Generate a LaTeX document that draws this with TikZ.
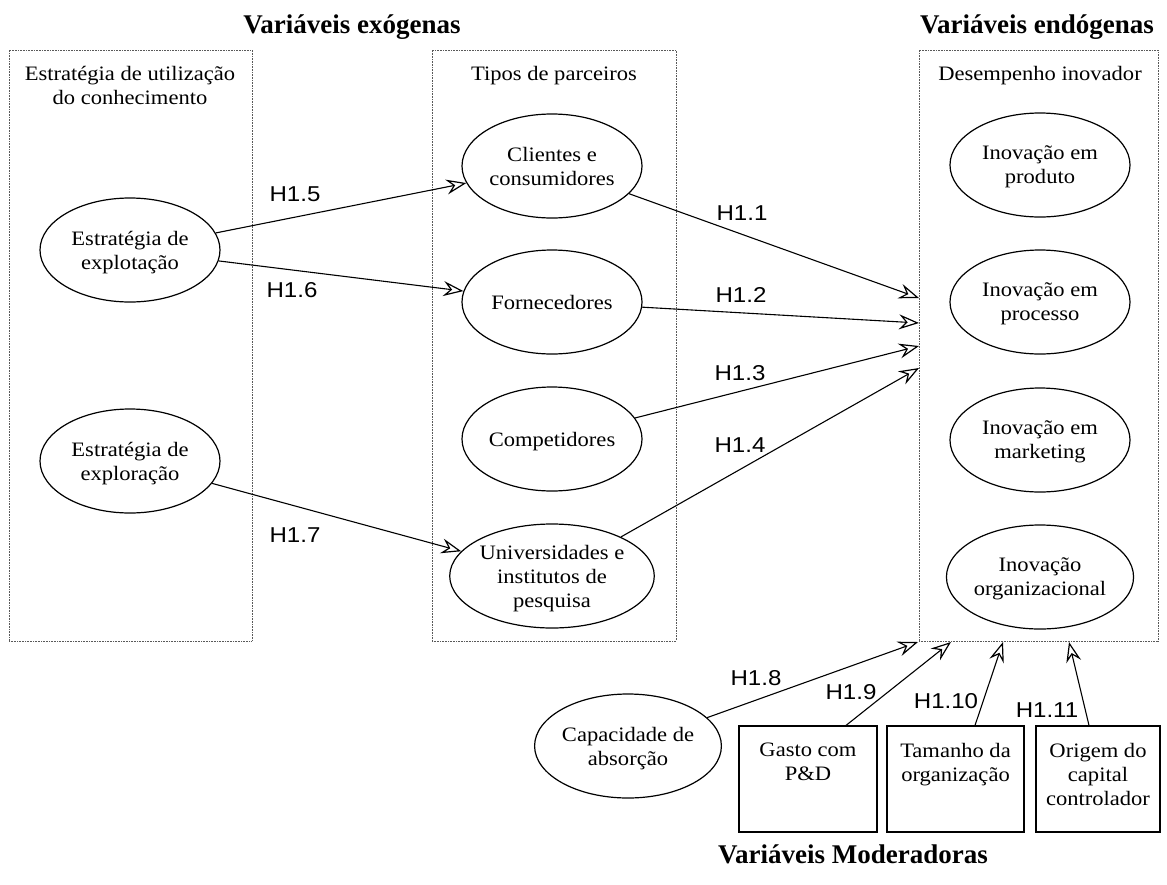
\documentclass[tikz,border=0pt]{standalone}
\usepackage{fontspec}
\setmainfont{Liberation Serif}[FakeStretch=1.1]
\newfontfamily\titlefont{Liberation Serif}
\newfontfamily\hfont{Liberation Sans}[FakeStretch=1.12]
\usetikzlibrary{arrows.meta,shapes.geometric}
\begin{document}
\begin{tikzpicture}[x=1pt,y=-1pt,
  txt/.style={font=\fontsize{20.5}{24}\selectfont, align=center, inner sep=0pt},
  ell/.style={ellipse, draw, line width=1.2pt, minimum width=180pt, minimum height=104pt,
              inner sep=0pt, txt, text depth=0pt},
  dotbox/.style={draw=black!65, dash pattern=on 0.8pt off 0.8pt, line width=0.8pt, inner sep=0pt},
  modbox/.style={draw, line width=1.2pt, inner sep=0pt},
  hlab/.style={font=\hfont\fontsize{21.5}{24}\selectfont, anchor=base, inner sep=0pt},
  ttl/.style={font=\titlefont\bfseries\fontsize{27}{30}\selectfont, anchor=base, inner sep=0pt},
  arr/.style={draw, line width=1.1pt, -{Stealth[open, length=20pt, width=15pt, inset=7pt, line width=1.2pt]}},
]
\useasboundingbox (0,0) rectangle (1167,884);

% titles
\node[ttl] (tex) at (352,33) {Variáveis exógenas};
\node[ttl] (ten) at (1037,33) {Variáveis endógenas};
\node[ttl] (tmo) at (853,863) {Variáveis Moderadoras};

% dotted group boxes
\node[dotbox, minimum width=243pt, minimum height=591pt] (b1) at (130.5,345.5) {};
\node[dotbox, minimum width=244pt, minimum height=591pt] (b2) at (554,345.5) {};
\node[dotbox, minimum width=239pt, minimum height=591pt] (b3) at (1038.5,345.5) {};

\node[txt, anchor=north] (h1) at (130,66) {Estratégia de utilização\\do conhecimento};
\node[txt, anchor=base] (h2) at (554,80) {Tipos de parceiros};
\node[txt, anchor=base] (h3) at (1040,80) {Desempenho inovador};

% ellipses
\node[ell] (expt) at (130,250) {Estratégia de\\explotação};
\node[ell] (expr) at (130,461) {Estratégia de\\exploração};
\node[ell] (cli)  at (552,166) {Clientes e\\consumidores};
\node[ell] (forn) at (552,302) {Fornecedores};
\node[ell] (comp) at (552,439) {Competidores};
\node[ell] (univ) at (552,576) {Universidades e\\institutos de\\pesquisa};
\node[ell] (prod) at (1040,165) {Inovação em\\produto};
\node[ell] (proc) at (1040,302) {Inovação em\\processo};
\node[ell] (mkt)  at (1040,440) {Inovação em\\marketing};
\node[ell] (org)  at (1040,577) {Inovação\\organizacional};
\node[ell, minimum width=178pt] (cap) at (628,746) {Capacidade de\\absorção};

% moderator boxes
\node[modbox, minimum width=138pt, minimum height=106pt] (gasto) at (808,779) {};
\node[modbox, minimum width=137pt, minimum height=106pt] (tam) at (955.5,779) {};
\node[modbox, minimum width=124pt, minimum height=106pt] (orig) at (1098,779) {};
\node[txt, anchor=north] (gastot) at (808,743) {Gasto com\\P\&D};
\node[txt, anchor=north] (tamt) at (955.5,743) {Tamanho da\\organização};
\node[txt, anchor=north] (origt) at (1098,743) {Origem do\\capital\\controlador};

% arrow end points on the dotted box border
\coordinate (t1) at (919,298);
\coordinate (t2) at (919,323);
\coordinate (t3) at (919,346);
\coordinate (t4) at (919,368);
\coordinate (t8) at (918,642);
\coordinate (t9) at (951,642);
\coordinate (t10) at (1003,642);
\coordinate (t11) at (1069,642);

% connectors
\draw[arr] (expt) -- (cli);
\draw[arr] (expt) -- (forn);
\draw[arr] (expr) -- (univ);
\draw[arr] (cli) -- (t1);
\draw[arr] (forn) -- (t2);
\draw[arr] (comp) -- (t3);
\draw[arr] (univ) -- (t4);
\draw[arr] (cap) -- (t8);
\draw[arr] ([xshift=38pt]gasto.north) -- (t9);
\draw[arr] ([xshift=19.5pt]tam.north) -- (t10);
\draw[arr] ([xshift=-9pt]orig.north) -- (t11);

% hypothesis labels
\node[hlab] (l15) at (295,201) {H1.5};
\node[hlab] (l16) at (292,297) {H1.6};
\node[hlab] (l17) at (295,542) {H1.7};
\node[hlab] (l11) at (742,220) {H1.1};
\node[hlab] (l12) at (741,302) {H1.2};
\node[hlab] (l13) at (740,380) {H1.3};
\node[hlab] (l14) at (740,452) {H1.4};
\node[hlab] (l18) at (756,685) {H1.8};
\node[hlab] (l19) at (851,699) {H1.9};
\node[hlab] (l110) at (946,708) {H1.10};
\node[hlab] (l111) at (1047,717) {H1.11};
\end{tikzpicture}
\end{document}
